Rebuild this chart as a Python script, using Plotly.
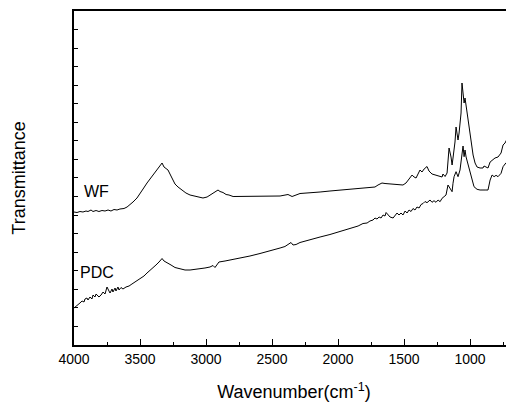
import plotly.graph_objects as go

# FTIR spectra, wavenumber (cm-1) vs transmittance (arbitrary units, curves offset)
wf_wn = [4000, 3977, 3955, 3932, 3909, 3894, 3871, 3856, 3833, 3811, 3788, 3765, 3742, 3720,
         3697, 3674, 3652, 3621, 3598, 3576, 3553, 3523, 3500, 3477, 3447, 3424, 3394, 3371,
         3348, 3333, 3318, 3303, 3288, 3273, 3250, 3235, 3212, 3182, 3152, 3121, 3083, 3045,
         3023, 2992, 2970, 2947, 2924, 2909, 2894, 2871, 2848, 2826, 2795, 2742, 2667, 2591,
         2530, 2439, 2379, 2348, 2288, 2212, 2136, 2061, 1985, 1909, 1833, 1758, 1720, 1697,
         1667, 1644, 1606, 1568, 1530, 1508, 1485, 1462, 1439, 1424, 1409, 1394, 1379, 1364,
         1348, 1326, 1311, 1288, 1265, 1242, 1212, 1205, 1189, 1174, 1167, 1159, 1144, 1136,
         1129, 1114, 1106, 1098, 1091, 1083, 1068, 1061, 1053, 1045, 1038, 1023, 1015, 1000,
         985, 977, 962, 947, 924, 902, 894, 879, 864, 848, 833, 811, 788, 765, 750, 735, 712,
         697, 682, 674, 667]
wf_t = [133, 132.5, 133.5, 133, 134, 133.5, 135, 133.5, 134.5, 133.5, 134.5, 134, 135, 134,
        135.5, 135, 136, 136.5, 138, 140, 143, 147, 151, 156, 162, 166, 172, 176,
        179, 182, 178, 176, 175, 171, 164, 161, 158, 155, 152, 150, 149, 148,
        147, 148, 150, 152, 154, 155, 153.5, 152.5, 150.5, 150, 148.5, 148.5, 148.5, 148.5,
        149, 149, 150.5, 148.5, 151.5, 152, 153, 154, 155, 155.5, 156.5, 157.5, 158, 160,
        162, 161.5, 161, 160.5, 160, 160, 162, 166, 170, 168, 167, 171, 175, 173,
        176, 178.5, 174, 171, 170, 169, 168, 171, 168.5, 172, 185, 197, 188, 180,
        187, 203, 218, 213, 205, 212, 232, 262, 248, 242, 247, 233, 225, 213,
        200, 190, 182, 178, 177, 177, 179, 178, 177, 183, 185, 187, 188, 192, 200, 202, 208,
        213, 218, 235, 243]

pdc_wn = [4000, 3985, 3970, 3955, 3939, 3924, 3917, 3902, 3894, 3879, 3864, 3856, 3841, 3833,
          3818, 3811, 3795, 3780, 3765, 3750, 3735, 3727, 3712, 3705, 3689, 3682, 3667, 3659,
          3644, 3629, 3606, 3583, 3561, 3538, 3515, 3492, 3470, 3447, 3424, 3402, 3379, 3356,
          3341, 3333, 3318, 3303, 3288, 3265, 3235, 3197, 3159, 3121, 3083, 3045, 3008, 2970,
          2947, 2932, 2917, 2902, 2856, 2818, 2742, 2667, 2591, 2515, 2470, 2439, 2402, 2371,
          2356, 2341, 2318, 2288, 2212, 2136, 2061, 1985, 1909, 1848, 1811, 1780, 1758, 1735,
          1720, 1705, 1689, 1674, 1659, 1644, 1636, 1621, 1606, 1583, 1568, 1553, 1538, 1523,
          1508, 1492, 1477, 1462, 1447, 1432, 1417, 1402, 1386, 1371, 1356, 1341, 1326, 1303,
          1288, 1273, 1258, 1242, 1227, 1212, 1197, 1182, 1167, 1152, 1136, 1129, 1121, 1106,
          1098, 1091, 1076, 1061, 1053, 1045, 1038, 1030, 1015, 1000, 985, 970, 947, 924, 886,
          864, 848, 833, 818, 803, 788, 765, 750, 742, 727, 712, 705, 689, 674, 667]
pdc_t = [37, 39, 40.5, 42, 44, 43, 46, 47, 45, 48, 46, 50, 48, 51,
         49, 48, 50, 53, 51, 58, 54, 52, 56, 53, 57, 54, 58, 55,
         57.5, 56, 58, 59, 61, 63, 65, 67, 69, 72, 74.5, 77, 80, 83,
         85, 86.5, 84, 83, 82, 80, 77.5, 76, 75, 75, 75.5, 76, 77, 78,
         79.5, 77.5, 81, 83, 84, 85, 86.5, 89, 91.5, 94, 96, 97, 98.5, 101.5,
         102.5, 100, 100.5, 102.5, 105.5, 108, 110.5, 113.5, 116.5, 119, 121.5, 122, 124, 125,
         127, 126, 128, 127, 130, 129, 132.5, 130, 128, 127, 129, 132, 130, 132,
         130, 134, 132, 135, 133.5, 136.5, 135, 138, 137, 140.5, 141.5, 143.5, 142.3, 145,
         142.7, 144.3, 142.7, 145, 143.3, 146.7, 148.3, 150, 160, 156.7, 153.3, 161.7, 168.3, 173.3,
         170, 168.3, 175, 193.3, 199, 188.3, 195, 188, 180, 171.7, 165, 158.3, 155.7, 155, 155,
         155, 165, 170, 168.3, 169.7, 168.3, 171.7, 178.3, 180, 182.3, 181, 185.7, 186.7, 193.3, 200]

FONT = "Liberation Sans, Arial, sans-serif"

fig = go.Figure()
fig.add_trace(go.Scatter(x=wf_wn, y=wf_t, mode="lines", name="WF",
                         line=dict(color="black", width=1)))
fig.add_trace(go.Scatter(x=pdc_wn, y=pdc_t, mode="lines", name="PDC",
                         line=dict(color="black", width=1)))

# 曲线标签
fig.add_annotation(x=3826, y=154, text="WF", showarrow=False,
                   font=dict(family=FONT, size=16, color="black"))
fig.add_annotation(x=3826, y=73, text="PDC", showarrow=False,
                   font=dict(family=FONT, size=16, color="black"))

fig.update_xaxes(
    range=[4000, 667], automargin=False,
    tick0=0, dtick=500,
    ticks="inside", ticklen=6, tickwidth=1, tickcolor="black",
    minor=dict(ticks="inside", ticklen=3, dtick=250, tickcolor="black"),
    showline=True, linecolor="black", linewidth=1.5, mirror=True,
    showgrid=False, zeroline=False,
    tickfont=dict(family=FONT, size=14, color="black"),
    title=dict(text="Wavenumber(cm<sup>-1</sup>)",
               font=dict(family=FONT, size=18, color="black"), standoff=20),
)
fig.update_yaxes(
    range=[0, 334], automargin=False,
    tick0=0, dtick=18.56,
    ticks="inside", ticklen=4, tickwidth=1, tickcolor="black",
    showticklabels=False,
    showline=True, linecolor="black", linewidth=1.5, mirror=False,
    showgrid=False, zeroline=False,
    title=dict(text="Transmittance",
               font=dict(family=FONT, size=18, color="black"), standoff=42),
)

# 页面自带 8px 边距, 这里整体缩小 8px 来对齐
fig.update_layout(
    width=506, height=395,
    margin=dict(l=66, r=0, t=3, b=58),
    plot_bgcolor="white", paper_bgcolor="white",
    showlegend=False,
)

fig.write_html("out.html")
